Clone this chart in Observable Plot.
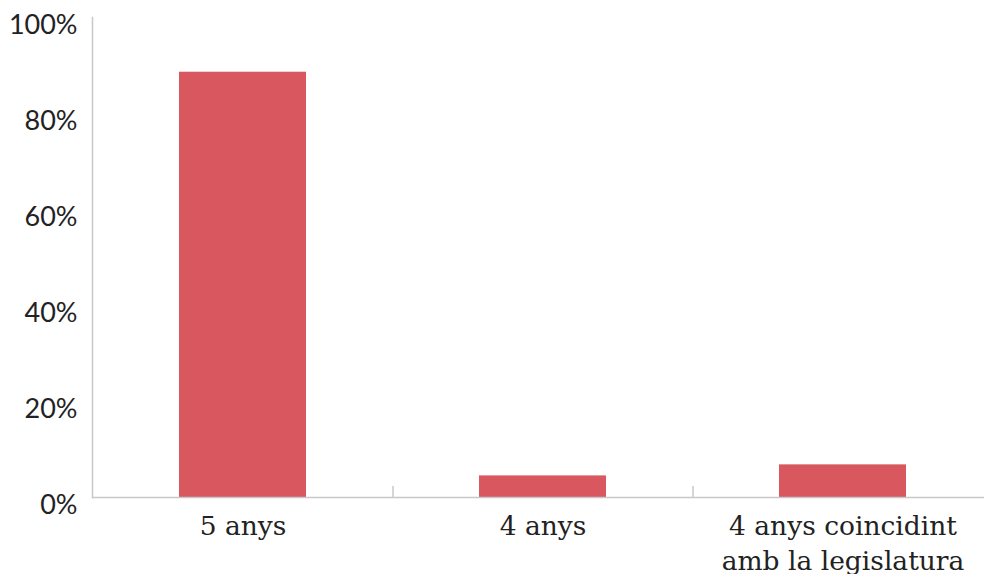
<!DOCTYPE html>
<html>
<head>
<meta charset="utf-8">
<script src="https://cdn.jsdelivr.net/npm/d3@7"></script>
<script src="https://cdn.jsdelivr.net/npm/@observablehq/plot@0.6"></script>
<style>
  html, body { margin: 0; padding: 0; background: #fff; }
  #chart { width: 984px; height: 574px; overflow: hidden; }
</style>
</head>
<body>
<div id="chart"></div>
<script>
const categories = ["5 anys", "4 anys", "4 anys coincidint\namb la legislatura"];
const values = [0.886, 0.045, 0.068];
const yTicks = [0, 0.2, 0.4, 0.6, 0.8, 1];

const data = categories.map((c, i) => ({category: c, value: values[i]}));

const W = 984, H = 574;
const mLeft = 92, mTop = 17, mBottom = 77;
const xRange = [92.5, 992.5];
const step = (xRange[1] - xRange[0]) / categories.length;

const chart = Plot.plot({
  width: W,
  height: H,
  marginLeft: mLeft,
  marginTop: mTop,
  marginBottom: mBottom,
  marginRight: 0,
  style: {background: "#fff", color: "#222"},
  x: {domain: categories, range: xRange, paddingInner: 0.577, paddingOuter: 0.2885, label: null},
  y: {domain: [0, 1], label: null},
  marks: [
    Plot.barY(data, {x: "category", y: "value", fill: "#d9575f"}),
    Plot.ruleY([0], {stroke: "#c8c8cc", strokeWidth: 1.5}),
    Plot.frame({anchor: "left", stroke: "#c8c8cc", strokeWidth: 1.5}),
    Plot.ruleX(categories.slice(1), {x: d => d, y1: 0, y2: 0, insetTop: -11, dx: -step / 2, stroke: "#c8c8cc", strokeWidth: 1.5}),
    Plot.axisY({ticks: yTicks, tickFormat: d3.format(".0%"), tickSize: 0, tickPadding: 15, dy: 8,
      fontSize: 27, fontFamily: "Lato", fill: "#222"}),
    Plot.axisX({tickSize: 0, tickPadding: 13, lineAnchor: "top", fontSize: 26.5, lineHeight: 1.32,
      fontFamily: "DejaVu Serif", fill: "#222"})
  ]
});
document.getElementById("chart").appendChild(chart);
</script>
</body>
</html>
